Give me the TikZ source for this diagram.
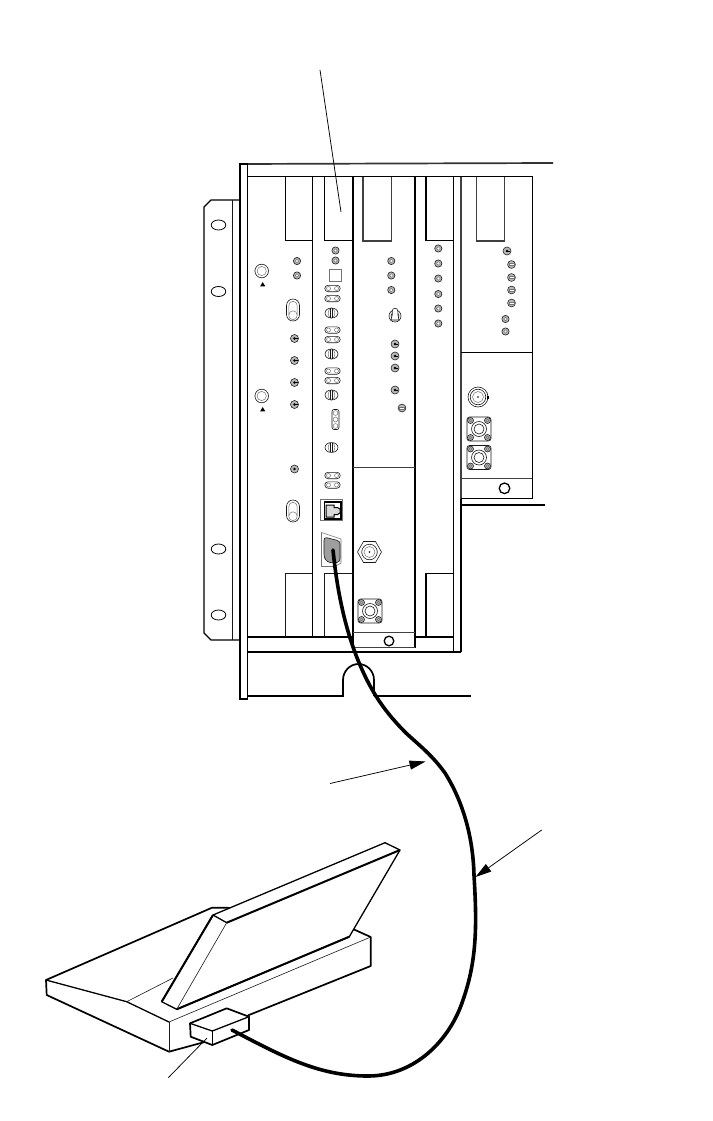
\documentclass[tikz,border=0pt]{standalone}
\usetikzlibrary{arrows.meta}
\definecolor{ledgrey}{gray}{0.72}
\definecolor{connfill}{gray}{0.62}
\definecolor{pale}{gray}{0.45}
\tikzset{
  x=1pt,y=-1pt,
  heavy/.style={line width=1.7pt,black},
  medium/.style={line width=1.3pt,black},
  soft/.style={line width=1.1pt,black!75},
  fine/.style={line width=.6pt,black!90},
  faint/.style={line width=.5pt,pale},
  cable/.style={line width=3.6pt,black,line cap=round,line join=round},
  leader/.style={line width=.75pt,black},
  lead tip/.style={-{Triangle[length=16pt,width=9pt]}},
}
% LED with grey ring
\newcommand{\ledring}[2]{%
  \fill[ledgrey] (#1,#2) circle (3.3);
  \draw[line width=.7pt,black!85] (#1,#2) circle (3.6);
  \fill[white] (#1,#2) circle (1.8);
  \draw[faint] (#1,#2) circle (1.8);}
% jack with an arrow-like pin
\newcommand{\pinjack}[2]{%
  \fill[ledgrey] (#1,#2) circle (3.6);
  \draw[fine] (#1,#2) circle (4);
  \fill[black] (#1,#2) circle (1.3);
  \draw[line width=.9pt] (#1,#2) -- ++(3,0);}
% jack with a bar
\newcommand{\barjack}[2]{%
  \fill[ledgrey] (#1,#2) circle (3.5);
  \draw[fine] (#1,#2) circle (3.9);
  \fill[white] (#1-2.4,#2-1.2) rectangle (#1+2.4,#2+1.2);
  \draw[faint] (#1-2.4,#2-1.2) rectangle (#1+2.4,#2+1.2);}
% large ring and triangle
\newcommand{\bigring}[2]{%
  \draw[fine] (#1,#2) circle (6.8);
  \draw[faint] (#1,#2) circle (4.6);
  \fill (#1+1,#2+11) -- ++(2.6,4.4) -- ++(-5.2,0) -- cycle;}
% long toggle
\newcommand{\longtoggle}[2]{%
  \draw[fine] (#1-6.5,#2-4.5) arc (180:360:6.5) -- (#1+6.5,#2+4.5) arc (0:180:6.5) -- cycle;
  \draw[faint] (#1-4.2,#2-4.5) arc (180:360:4.2) -- (#1+4.2,#2+5.5) arc (0:180:4.2) -- cycle;
  \draw[faint] (#1-4.2,#2+5) arc (180:360:4.2);}
% double oval jack
\newcommand{\dualjack}[2]{%
  \draw[fine] (#1-4.5,#2-3.2) -- (#1+4.5,#2-3.2) arc (-90:90:3.2) -- (#1-4.5,#2+3.2) arc (90:270:3.2) -- cycle;
  \draw[faint] (#1-4,#2) circle (2);
  \draw[faint] (#1+4,#2) circle (2);}
% striped round jack
\newcommand{\stripejack}[2]{%
  \draw[fine] (#1,#2) ellipse (6.5 and 5);
  \draw[faint] (#1,#2) ellipse (3.4 and 5);
  \draw[fine] (#1-1,#2-4.8) -- (#1-1,#2+4.8) (#1+1,#2-4.8) -- (#1+1,#2+4.8);}
% four-hole N type flange
\newcommand{\nflange}[2]{%
  \draw[fine,rounded corners=2.5pt] (#1-12,#2-12) rectangle (#1+12,#2+12);
  \foreach \sx in {-1,1}{\foreach \sy in {-1,1}{
    \fill[ledgrey] (#1+\sx*8.5,#2+\sy*8.5) circle (3);
    \draw[fine] (#1+\sx*8.5,#2+\sy*8.5) circle (3);
    \draw[faint] (#1+\sx*8.5,#2+\sy*8.5) circle (1.5);}}
  \fill[white] (#1,#2) circle (8);
  \draw[fine] (#1,#2) circle (7.5);
  \draw[fine] (#1,#2) circle (5);}
\begin{document}
\begin{tikzpicture}
\useasboundingbox (0,0) rectangle (712,1121);
\fill[white] (0,0) rectangle (712,1121);

% ---- mounting ear ----
\draw[medium] (240,200) -- (211,200) -- (204,207) -- (204,633) -- (211,640) -- (240,640);
\draw[fine] (232,200) -- (232,640);
\foreach \yy in {225,291.5,549,615}{\draw[line width=.8pt] (218.5,\yy) ellipse (7.3 and 5);}

% ---- chassis ----
\draw[heavy,black!80] (240,164) -- (553,163);
\draw[medium] (240,164) rectangle (247.5,699);
\draw[medium] (247.5,176.5) -- (533,176.5);
\draw[heavy] (247.5,696) -- (343,696) -- (343,680) arc (180:360:15.5 and 16) -- ++(0,16);
\draw[heavy] (374,696) -- (471,696);
\draw[medium] (247.5,637) -- (352.8,637) (415,637) -- (453.5,637);
\draw[heavy] (247.5,652) -- (461,652);

% dividers
\draw[medium] (312.3,176.5) -- (312.3,637);
\draw[heavy] (352.8,176.5) -- (352.8,647.5);
\draw[heavy] (415,176.5) -- (415,648);
\draw[heavy] (453.5,176.5) -- (453.5,652);
\draw[heavy] (461,176.5) -- (461,176.5);
\draw[heavy] (461,498.5) -- (461,652);

% handles, top
\draw[medium] (285.3,176.5) -- (285.3,240.5) -- (312.3,240.5);
\draw[medium] (324.3,176.5) -- (324.3,240.5) -- (352.8,240.5);
\draw[soft] (363,176.5) -- (363,241) -- (391.3,241) -- (391.3,176.5);
\draw[heavy] (426,176.5) -- (426,240.5) -- (453.5,240.5);
\draw[soft] (476.7,176.5) -- (476.7,241) -- (504.3,241) -- (504.3,176.5);
% handles, bottom
\draw[fine] (285.3,637) -- (285.3,573.5) -- (312.3,573.5);
\draw[fine] (324.3,637) -- (324.3,573.5) -- (352.8,573.5);
\draw[medium] (426,637) -- (426,573.5) -- (453.5,573.5);

% module 3 lower part
\draw[soft] (352.8,467.3) -- (415,467.3);
\draw[soft] (352.8,632.3) -- (415,632.3);
\draw[soft] (352.8,647.7) -- (415,647.7);
\draw[medium] (389,641) circle (4.8);

% module 5
\draw[soft] (461,176.5) -- (461,498.5);
\draw[medium] (532.3,176.5) -- (532.3,498.5) -- (461,498.5);
\draw[medium] (461,352.3) -- (532.3,352.3);
\draw[soft] (461,478.5) -- (532.3,478.5);
\draw[medium] (504.5,488.3) circle (5.3);
\draw[heavy] (461,505) -- (545,505);

% ---- module 1 ----
\bigring{261.7}{271}
\bigring{261.7}{396}
\ledring{297}{261}
\ledring{297}{275.5}
\longtoggle{293}{310}
\longtoggle{293}{511}
\foreach \yy in {338.5,360.5,382.5,404.5}{\pinjack{294.5}{\yy}}
\fill[ledgrey] (294.5,469) circle (3.6);
\draw[fine] (294.5,469) circle (4);
\fill (294.5,469) circle (1.3);

% ---- module 2 ----
\ledring{335.5}{250.5}
\ledring{335.5}{260.5}
\draw[faint] (329.5,269.5) rectangle (341.5,281.5);
\dualjack{332.5}{288.5}
\dualjack{332.5}{298.5}
\stripejack{331.5}{313}
\dualjack{332.5}{330}
\dualjack{332.5}{339.5}
\stripejack{331.5}{354}
\dualjack{332.5}{371}
\dualjack{332.5}{380.5}
\stripejack{331.5}{395}
\draw[fine,rounded corners=2pt] (332,409.5) rectangle (339,429.5);
\foreach \yy in {413,419.5,426}{\draw[faint] (335.5,\yy) circle (2.4);}
\stripejack{331.5}{447.5}
\dualjack{332.5}{475.5}
\dualjack{332.5}{485}
% RJ45
\draw[faint,line width=.9pt] (320.7,499) rectangle (342.7,520.5);
\draw[medium] (324.5,502) rectangle (341,519);
\draw[line width=1pt,fill=black!15] (326,505) -- (334,505) -- (334,507.5) -- (337.5,507.5) -- (340,509) -- (340,513) -- (337.5,514.5) -- (334,514.5) -- (334,517) -- (326,517) -- cycle;
% D-sub
\draw[faint,line width=.6pt] (321.5,532.5) -- (341,539) -- (341,563) -- (335,566.5) -- (321.5,566.5) -- cycle;
\draw[fine,fill=connfill,rounded corners=3pt] (324,537) -- (340,541) -- (340,562) -- (333,563) -- (327,562) -- (324,557) -- cycle;

% ---- module 3 ----
\ledring{391.3}{261}
\ledring{391.3}{275.5}
\ledring{391.3}{290}
\draw[fine] (395,316) circle (6);
\draw[fine] (395,316) circle (4);
\draw[fine,fill=white] (392.2,311) arc (180:360:2.8) -- (398,315) -- (399,320) -- (391,320) -- (392.2,315) -- cycle;
\foreach \yy in {344,356,368,390}{\pinjack{395}{\yy}}
\barjack{402}{408}
% hex connector
\draw[fine] (357.5,552) -- (363.5,541.5) -- (375.5,541.5) -- (381.5,552) -- (375.5,562.5) -- (363.5,562.5) -- cycle;
\draw[fine] (369.5,552) circle (7.8);
\draw[faint] (369.5,552) circle (5.5);
\fill (369.5,552) circle (.8);
\nflange{370}{611}

% ---- module 4 ----
\foreach \yy in {248.5,263.5,278.5,294,308.5,323.5}{\ledring{438.3}{\yy}}

% ---- module 5 ----
\pinjack{507}{251}
\foreach \yy in {264.5,277.5,290,303}{\barjack{511.5}{\yy}}
\ledring{505.5}{319}
\ledring{505.5}{331.5}
\draw[fine] (478,397) circle (10);
\draw[fine] (478,397) circle (7.8);
\draw[faint] (478,397) circle (5.5);
\fill (478,397) circle (.8);
\fill (486.5,395.5) rectangle (488.5,398.5);
\nflange{479}{429}
\nflange{479}{457.5}

% ---- console ----
\draw[heavy,fill=white,line join=round] (46,980) -- (212,907.7) -- (227,907.7) -- (353,929) -- (370.7,937) -- (370.7,966) -- (249,1015) -- (212,1040) -- (169,1051.7) -- (46.7,995) -- cycle;
\draw[medium] (46,980) -- (126.7,1001.7) -- (169,1022);
\draw[fine] (169,1022) -- (370.7,937);
\draw[fine] (169,1022) -- (169,1051.7);
\draw[fine] (126.7,1001.7) -- (173,978);
% display
\draw[medium,fill=white,line join=round] (161.7,1001.7) -- (213,915) -- (385,842.7) -- (400,850) -- (349.3,936.7) -- (176.7,1009.3) -- cycle;
\draw[line width=2pt] (226.7,922.7) -- (400,850);
\draw[line width=2pt] (161.7,1001.7) -- (213,915);
\draw[line width=2pt] (349.3,936.7) -- (176.7,1009.3);
\draw[medium] (213,915) -- (226.7,922.7);
\draw[fine] (226.7,922.7) -- (176.7,1009.3);
% connector block
\draw[heavy,fill=white,line join=round] (190,1023.3) -- (226.7,1008.3) -- (249,1016.7) -- (249,1030) -- (212.3,1045) -- (190.7,1036.7) -- cycle;
\draw[medium] (190,1023.3) -- (212.3,1031) -- (249,1016.7);
\draw[medium] (212.3,1031) -- (212.3,1045);

% ---- cable ----
\draw[cable] (333,550) .. controls (337,590) and (345,630) .. (360,665)
  .. controls (372,693) and (385,712) .. (406,733)
  .. controls (420,746) and (432,755) .. (445,773)
  .. controls (462,800) and (473,835) .. (474,875)
  .. controls (477,925) and (477,960) .. (463,1000)
  .. controls (450,1040) and (415,1076) .. (368,1076)
  .. controls (320,1076) and (285,1058) .. (232,1030);

% ---- leaders ----
\draw[leader] (320,70) -- (341,212);
\draw[leader,lead tip] (330,783.5) -- (425.5,761.5);
\draw[leader,lead tip] (541.7,830) -- (475.5,877);
\draw[leader] (168.5,1077.5) -- (207,1038);
\end{tikzpicture}
\end{document}
